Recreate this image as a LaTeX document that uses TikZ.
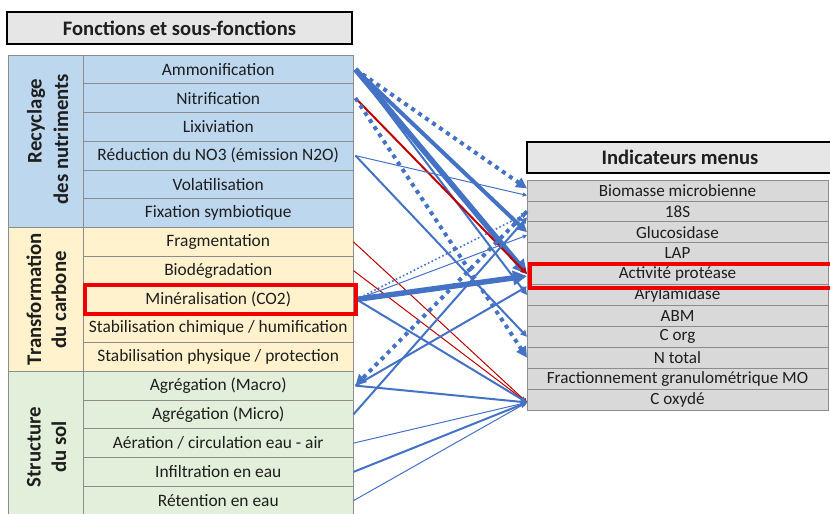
\documentclass[tikz,border=0pt]{standalone}
\usepackage{fontspec}
\setmainfont{Carlito}
\usetikzlibrary{arrows.meta}
\definecolor{bluefill}{HTML}{BDD7EE}
\definecolor{tanfill}{HTML}{FFF2CC}
\definecolor{greenfill}{HTML}{E2EFDA}
\definecolor{grayfill}{HTML}{D9D9D9}
\definecolor{titlefill}{HTML}{E7E6E6}
\definecolor{lineblue}{HTML}{4472C4}
\definecolor{linered}{HTML}{C00000}
\definecolor{hired}{HTML}{F00000}
\definecolor{gridgray}{HTML}{8C8C8C}
\definecolor{txt}{HTML}{1E1E1E}
\begin{document}
\begin{tikzpicture}[x=1pt,y=-1pt,
  srow/.style={draw=gridgray, line width=0.8pt, minimum width=270.5pt, minimum height=28.75pt,
    inner sep=0pt, outer sep=0pt, font=\fontsize{17.4}{19}\selectfont, text=txt},
  rrow/.style={draw=gridgray, fill=grayfill, line width=0.8pt, minimum width=301pt, minimum height=20.9pt,
    inner sep=0pt, outer sep=0pt, font=\fontsize{17.1}{18}\selectfont, text=txt},
  catbox/.style={draw=gridgray, line width=0.8pt, minimum width=75pt, inner sep=0pt, outer sep=0pt},
  catlbl/.style={rotate=90, font=\bfseries\fontsize{20.8}{22}\selectfont, text=txt, inner sep=0pt},
  titlebox/.style={draw=black, line width=2.5pt, fill=titlefill, inner sep=0pt,
    font=\bfseries\fontsize{20.6}{22}\selectfont, text=txt},
  hibox/.style={draw=hired, line width=4pt},
  conn/.style={draw=lineblue, -{Triangle[length=2pt 2.2, width=2pt 2.2]}},
  connr/.style={draw=linered, -{Triangle[length=2pt 2.2, width=2pt 2.2]}},
  cthin/.style={line width=1pt},
  cmed/.style={line width=2pt},
  cthick/.style={line width=4pt},
  cvthick/.style={line width=5.5pt},
  sqdots/.style={line width=4pt, dash pattern=on 4pt off 4.5pt},
  smalldots/.style={line width=1.6pt, dash pattern=on 1.6pt off 2.4pt}
]
\useasboundingbox[fill=white] (0,0) rectangle (830,514);

% title boxes
\node[titlebox, minimum width=345pt, minimum height=32pt] (t1) at (179.5,28) {Fonctions et sous-fonctions};
\node[titlebox, minimum width=306pt, minimum height=31pt] (t2) at (680,157.5) {Indicateurs menus};

% category column
\node[catbox, fill=bluefill, minimum height=172.5pt] (c1) at (45.5,141.25) {};
\node[catbox, fill=tanfill, minimum height=143.75pt] (c2) at (45.5,299.375) {};
\node[catbox, fill=greenfill, minimum height=150pt] (c3) at (45.5,446.25) {};
\node[catlbl] (c1a) at (36,121) {Recyclage};
\node[catlbl] (c1b) at (61,139) {des nutriments};
\node[catlbl] (c2a) at (34,299) {Transformation};
\node[catlbl] (c2b) at (59,300) {du carbone};
\node[catlbl] (c3a) at (34,447) {Structure};
\node[catlbl] (c3b) at (59,447) {du sol};

% sub-functions
\foreach \i/\nm/\txt/\col in {
  1/s1/{Ammonification}/bluefill,
  2/s2/{Nitrification}/bluefill,
  3/s3/{Lixiviation}/bluefill,
  4/s4/{Réduction du NO3 (émission N2O)}/bluefill,
  5/s5/{Volatilisation}/bluefill,
  6/s6/{Fixation symbiotique}/bluefill,
  7/s7/{Fragmentation}/tanfill,
  8/s8/{Biodégradation}/tanfill,
  9/s9/{Minéralisation (CO2)}/tanfill,
  10/s10/{Stabilisation chimique / humification}/tanfill,
  11/s11/{Stabilisation physique / protection}/tanfill,
  12/s12/{Agrégation (Macro)}/greenfill,
  13/s13/{Agrégation (Micro)}/greenfill,
  14/s14/{Aération / circulation eau - air}/greenfill,
  15/s15/{Infiltration en eau}/greenfill,
  16/s16/{Rétention en eau}/greenfill}
  \node[srow, fill=\col] (\nm) at (218.25,{55+28.75*(\i-0.5)}) {\txt};

% indicators
\foreach \i/\nm/\txt in {
  1/r1/{Biomasse microbienne},
  2/r2/{18S},
  3/r3/{Glucosidase},
  4/r4/{LAP},
  5/r5/{Activité protéase},
  6/r6/{Arylamidase},
  7/r7/{ABM},
  8/r8/{C org},
  9/r9/{N total},
  10/r10/{Fractionnement granulométrique MO},
  11/r11/{C oxydé}}
  \node[rrow] (\nm) at (677.5,{180+20.9*(\i-0.5)}) {\txt};

% connectors
\draw[conn, sqdots] ([xshift=2pt]s1.east) -- ([yshift=2pt]r1.west);
\draw[conn, cthick] ([xshift=2pt]s1.east) -- (r3.west);
\draw[conn, cvthick] ([xshift=2pt]s1.east) -- (r5.west);
\draw[conn, cmed] ([xshift=2pt]s1.east) -- (r6.west);
\draw[connr, cmed] ([xshift=2pt]s2.east) -- (r5.west);
\draw[conn, sqdots] ([xshift=2pt]s2.east) -- (r9.west);
\draw[conn, cthin] ([xshift=2pt]s4.east) -- ([yshift=-5pt]r1.west);
\draw[conn, cmed] ([xshift=2pt]s4.east) -- (r8.west);
\draw[connr, cthin] (s7.east) -- ([yshift=-3pt]r11.west);
\draw[connr, cthin] (s8.east) -- ([yshift=-3pt]r11.west);
\draw[conn, cvthick] ([xshift=3pt]s9.east) -- ([yshift=-2pt]r5.west);
\draw[conn, smalldots] ([xshift=3pt]s9.east) -- ([yshift=-2pt]r2.west);
\draw[conn, cthin] ([xshift=3pt]s9.east) -- ([yshift=-3pt]r3.west);
\draw[conn, cmed] ([xshift=3pt]s9.east) -- ([yshift=-3pt]r11.west);
\draw[conn, sqdots] (r2.west) -- ([xshift=2pt]s12.east);
\draw[conn, cmed] ([xshift=2pt]s12.east) -- ([yshift=-3pt]r11.west);
\draw[conn, cmed] ([xshift=2pt]s12.east) -- ([yshift=-2pt]r5.south west);
\draw[conn, cmed] (s13.east) -- ([yshift=-6pt]r2.west);
\draw[conn, cthin] (s14.east) -- ([yshift=-3pt]r11.west);
\draw[conn, cmed] (s15.east) -- ([yshift=-3pt]r11.west);
\draw[conn, cthin] (s16.east) -- ([yshift=-3pt]r11.west);

% highlight boxes
\draw[hibox] ([xshift=2pt]s9.north west) rectangle ([xshift=2pt]s9.south east);
\draw[hibox] ([xshift=2.5pt]r5.north west) rectangle ([xshift=12pt,yshift=-3.5pt]r5.south east);
\end{tikzpicture}
\end{document}
